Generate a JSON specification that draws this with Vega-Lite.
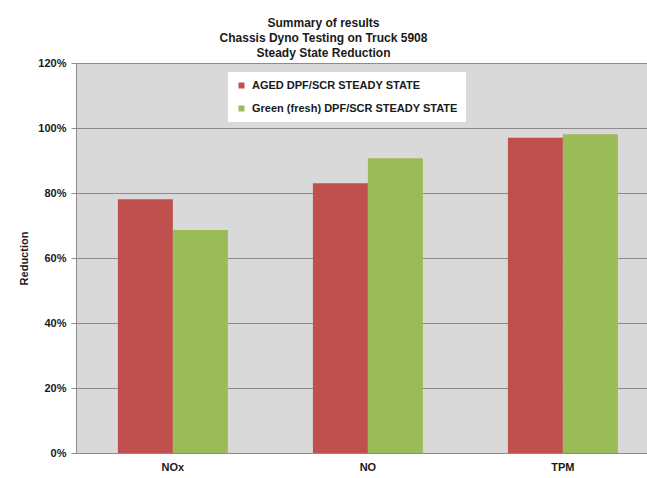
{
  "$schema": "https://vega.github.io/schema/vega-lite/v6.json",
  "autosize": "none",
  "width": 571,
  "height": 390,
  "padding": {"left": 76, "top": 63, "right": 0, "bottom": 25},
  "background": "white",
  "title": {
    "text": ["Summary of results", "Chassis Dyno Testing on Truck 5908", "Steady State Reduction"],
    "font": "Liberation Sans",
    "fontSize": 12,
    "fontWeight": "bold",
    "color": "#1a1a1a",
    "lineHeight": 15,
    "anchor": "middle",
    "frame": "group",
    "dx": -38,
    "offset": -3
  },
  "data": {
    "values": [
      {"pollutant": "NOx", "series": "AGED DPF/SCR STEADY STATE", "reduction": 0.781},
      {"pollutant": "NOx", "series": "Green (fresh) DPF/SCR STEADY STATE", "reduction": 0.686},
      {"pollutant": "NO", "series": "AGED DPF/SCR STEADY STATE", "reduction": 0.830},
      {"pollutant": "NO", "series": "Green (fresh) DPF/SCR STEADY STATE", "reduction": 0.907},
      {"pollutant": "TPM", "series": "AGED DPF/SCR STEADY STATE", "reduction": 0.970},
      {"pollutant": "TPM", "series": "Green (fresh) DPF/SCR STEADY STATE", "reduction": 0.981}
    ]
  },
  "mark": {"type": "bar"},
  "encoding": {
    "x": {
      "field": "pollutant",
      "type": "nominal",
      "sort": ["NOx", "NO", "TPM"],
      "scale": {"paddingInner": 0.436, "paddingOuter": 0.182, "align": 0.59},
      "axis": {
        "title": null,
        "labelAngle": 0,
        "labelFont": "Liberation Sans",
        "labelFontSize": 11,
        "labelFontWeight": "bold",
        "labelColor": "#1a1a1a",
        "labelPadding": 8,
        "ticks": false,
        "domainColor": "#8c8c8c",
        "grid": false
      }
    },
    "xOffset": {
      "field": "series",
      "type": "nominal",
      "scale": {"paddingInner": 0, "paddingOuter": 0}
    },
    "y": {
      "field": "reduction",
      "type": "quantitative",
      "scale": {"domain": [0, 1.2], "nice": false},
      "axis": {
        "title": "Reduction",
        "titleFont": "Liberation Sans",
        "titleFontSize": 11,
        "titleFontWeight": "bold",
        "titleColor": "#1a1a1a",
        "titlePadding": 8,
        "values": [0, 0.2, 0.4, 0.6, 0.8, 1.0, 1.2],
        "format": ".0%",
        "labelFont": "Liberation Sans",
        "labelFontSize": 11,
        "labelFontWeight": "bold",
        "labelColor": "#1a1a1a",
        "labelPadding": 5,
        "tickSize": 5,
        "tickColor": "#8c8c8c",
        "domainColor": "#8c8c8c",
        "gridColor": "#8c8c8c",
        "gridWidth": 1
      }
    },
    "color": {
      "field": "series",
      "type": "nominal",
      "scale": {
        "domain": ["AGED DPF/SCR STEADY STATE", "Green (fresh) DPF/SCR STEADY STATE"],
        "range": ["#C0504D", "#9BBB59"]
      },
      "legend": {
        "title": null,
        "orient": "none",
        "legendX": 152,
        "legendY": 9,
        "fillColor": "white",
        "padding": 8,
        "symbolType": "square",
        "symbolSize": 36,
        "symbolStrokeWidth": 0,
        "labelFont": "Liberation Sans",
        "labelFontSize": 11,
        "labelFontWeight": "bold",
        "labelColor": "#1a1a1a",
        "labelLimit": 400,
        "rowPadding": 11,
        "labelOffset": 5
      }
    }
  },
  "config": {
    "view": {"fill": "#D9D9D9", "stroke": null}
  }
}
